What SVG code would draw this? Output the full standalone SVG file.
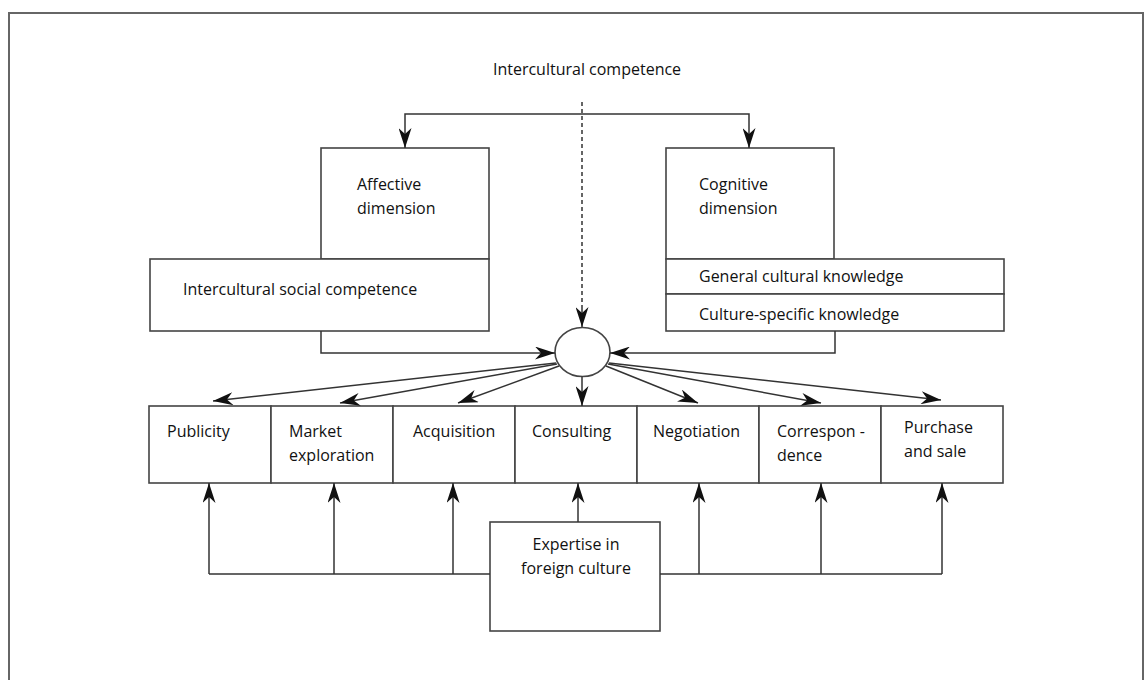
<svg xmlns="http://www.w3.org/2000/svg" width="1144" height="680" viewBox="0 0 1144 680">
<defs>
<marker id="ah" viewBox="0 0 20 13" refX="20" refY="6.5" markerWidth="20" markerHeight="13" orient="auto" markerUnits="userSpaceOnUse"><path d="M0,0 L20,6.5 L0,13 L6,6.5 z" fill="#111"/></marker>
<style>
.box{fill:#fff;stroke:#444;stroke-width:1.6}
.ln{fill:none;stroke:#333;stroke-width:1.5}
.ar{fill:none;stroke:#333;stroke-width:1.5;marker-end:url(#ah)}
text{font-family:"Open Sans","Noto Sans",sans-serif;font-size:16px;fill:#111}
</style>
</defs>
<rect x="0" y="0" width="1144" height="680" fill="#fff"/>
<rect x="9" y="13" width="1134" height="680" fill="none" stroke="#666" stroke-width="2"/>
<text x="587" y="75" text-anchor="middle">Intercultural competence</text>
<g id="affective">
<rect class="box" x="321" y="148" width="168" height="111"/>
<text x="357" y="190">Affective</text>
<text x="357" y="214">dimension</text>
</g>
<g id="social">
<rect class="box" x="150" y="259" width="339" height="72"/>
<text x="183" y="295">Intercultural social competence</text>
</g>
<g id="cognitive">
<rect class="box" x="666" y="148" width="168" height="111"/>
<text x="699" y="190">Cognitive</text>
<text x="699" y="214">dimension</text>
</g>
<g id="knowledge">
<rect class="box" x="666" y="259" width="338" height="35"/>
<rect class="box" x="666" y="294" width="338" height="37"/>
<text x="699" y="282">General cultural knowledge</text>
<text x="699" y="320">Culture-specific knowledge</text>
</g>
<g id="hub">
<ellipse class="box" cx="582.5" cy="352" rx="27.5" ry="24.5"/>
</g>
<g id="publicity"><rect class="box" x="149" y="406" width="122" height="77"/><text x="167" y="437">Publicity</text></g>
<g id="market"><rect class="box" x="271" y="406" width="122" height="77"/><text x="289" y="437">Market</text><text x="289" y="461">exploration</text></g>
<g id="acquisition"><rect class="box" x="393" y="406" width="122" height="77"/><text x="413" y="437">Acquisition</text></g>
<g id="consulting"><rect class="box" x="515" y="406" width="122" height="77"/><text x="532" y="437">Consulting</text></g>
<g id="negotiation"><rect class="box" x="637" y="406" width="122" height="77"/><text x="653" y="437">Negotiation</text></g>
<g id="correspondence"><rect class="box" x="759" y="406" width="122" height="77"/><text x="777" y="437">Correspon -</text><text x="777" y="461">dence</text></g>
<g id="purchase"><rect class="box" x="881" y="406" width="122" height="77"/><text x="904" y="433">Purchase</text><text x="904" y="457">and sale</text></g>
<g id="expertise"><rect class="box" x="490" y="522" width="170" height="109"/><text x="576" y="550" text-anchor="middle">Expertise in</text><text x="576" y="574" text-anchor="middle">foreign culture</text></g>
<g id="connectors">
<path class="ln" d="M582,102 V308" stroke-dasharray="4,3"/>
<path class="ar" d="M582,308 V327"/>
<path class="ar" d="M582,114 H405 V148"/>
<path class="ar" d="M582,114 H749 V148"/>
<path class="ar" d="M321,331 V353 H555"/>
<path class="ar" d="M835,331 V353 H610"/>
<path class="ar" d="M556,363 L213,401"/>
<path class="ar" d="M557,364 L340,403"/>
<path class="ar" d="M559,366 L458,403"/>
<path class="ar" d="M582,376.5 V406"/>
<path class="ar" d="M606,366 L698,403"/>
<path class="ar" d="M608,364 L821,403"/>
<path class="ar" d="M609,363 L941,400"/>
<path class="ln" d="M490,574 H209 M660,574 H942"/>
<path class="ar" d="M209,574 V483"/>
<path class="ar" d="M334,574 V483"/>
<path class="ar" d="M453,574 V483"/>
<path class="ar" d="M578,522 V483"/>
<path class="ar" d="M699,574 V483"/>
<path class="ar" d="M821,574 V483"/>
<path class="ar" d="M942,574 V483"/>
</g>
</svg>
